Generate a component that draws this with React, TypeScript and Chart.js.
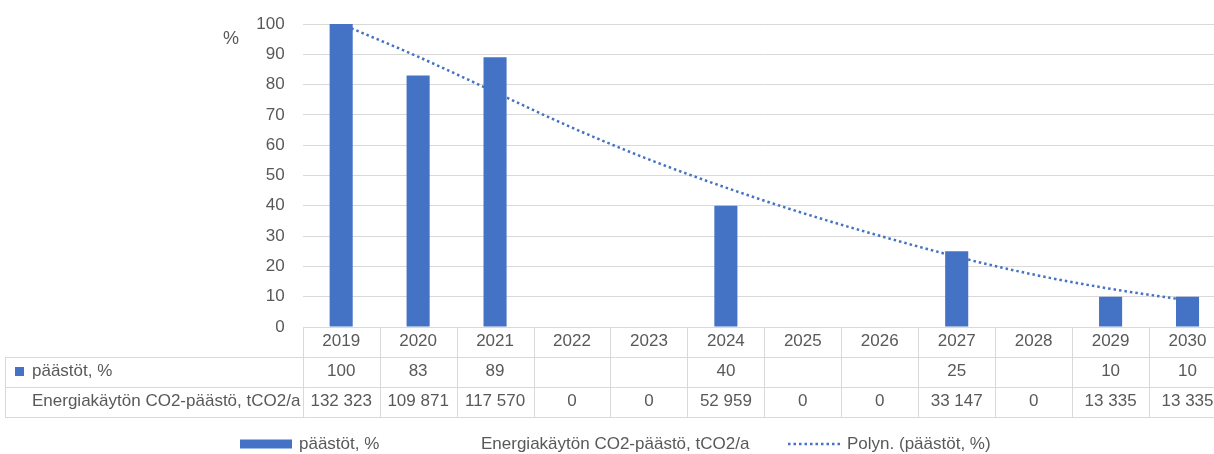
import React, { useEffect, useRef } from 'react';
import { Chart, registerables } from 'chart.js';

Chart.register(...registerables);

// ---- data ----
const years = ['2019', '2020', '2021', '2022', '2023', '2024', '2025', '2026', '2027', '2028', '2029', '2030'];
const paastotPct: (number | null)[] = [100, 83, 89, null, null, 40, null, null, 25, null, 10, 10];
const co2Tonnes: number[] = [132323, 109871, 117570, 0, 0, 52959, 0, 0, 33147, 0, 13335, 13335];
// polynomial trendline values, one per year
const trendPct: number[] = [100, 89.2, 77.5, 65.8, 55.3, 46.0, 37.6, 30.1, 23.2, 17.3, 12.6, 8.8];
const seriesLabel = 'päästöt, %';
const co2Label = 'Energiakäytön CO2-päästö, tCO2/a';
const trendLabel = 'Polyn. (päästöt, %)';
const yAxisTitle = '%';
const yMin = 0;
const yMax = 100;
const yStep = 10;

const BLUE = '#4472C4';
const GRID = '#d9d9d9';
const TEXT = '#595959';
const FONT = '"Liberation Sans", Arial, sans-serif';

const fmt = (v: number) => String(v).replace(/\B(?=(\d{3})+(?!\d))/g, ' ');

const tablePlugin = {
  id: 'dataTableAndLegend',
  afterDraw(chart: any) {
    const { ctx, chartArea } = chart;
    const xs = chart.scales.x;
    const n = years.length;
    const colW = (chartArea.right - chartArea.left) / n;
    const top = chartArea.bottom;
    const rowH = 30;
    const leftEdge = 5;
    ctx.save();
    // grid lines of the table
    ctx.strokeStyle = GRID;
    ctx.lineWidth = 1;
    ctx.beginPath();
    for (let r = 1; r <= 3; r++) {
      const y = Math.round(top + r * rowH) + 0.5;
      ctx.moveTo(leftEdge, y);
      ctx.lineTo(chartArea.right, y);
    }
    for (let i = 0; i <= n; i++) {
      const x = Math.round(chartArea.left + i * colW) + 0.5;
      ctx.moveTo(x, top);
      ctx.lineTo(x, top + 3 * rowH);
    }
    ctx.moveTo(leftEdge + 0.5, top + rowH);
    ctx.lineTo(leftEdge + 0.5, top + 3 * rowH);
    ctx.stroke();

    // texts
    ctx.font = `17px ${FONT}`;
    ctx.fillStyle = TEXT;
    ctx.textBaseline = 'middle';
    ctx.textAlign = 'center';
    for (let i = 0; i < n; i++) {
      const cx = xs.getPixelForValue(i);
      ctx.fillText(years[i], cx, top + rowH * 0.5 - 0.5);
      const p = paastotPct[i];
      if (p !== null) ctx.fillText(String(p), cx, top + rowH * 1.5 - 0.5);
      ctx.fillText(fmt(co2Tonnes[i]), cx, top + rowH * 2.5 - 0.5);
    }
    ctx.textAlign = 'left';
    ctx.fillStyle = BLUE;
    ctx.fillRect(15, top + rowH * 1.5 - 5, 9, 9);
    ctx.fillStyle = TEXT;
    ctx.fillText(seriesLabel, 32, top + rowH * 1.5 - 0.5);
    ctx.fillText(co2Label, 32, top + rowH * 2.5 - 0.5);

    // legend
    const ly = 444;
    ctx.fillStyle = BLUE;
    ctx.fillRect(240, ly - 4.5, 52, 9);
    ctx.fillStyle = TEXT;
    ctx.fillText(seriesLabel, 299, ly);
    ctx.fillText(co2Label, 481, ly);
    ctx.strokeStyle = BLUE;
    ctx.lineWidth = 2.5;
    ctx.setLineDash([2.5, 3]);
    ctx.beginPath();
    ctx.moveTo(788, ly);
    ctx.lineTo(840, ly);
    ctx.stroke();
    ctx.setLineDash([]);
    ctx.fillText(trendLabel, 847, ly);

    // "%" axis title
    ctx.font = `18px ${FONT}`;
    ctx.fillText(yAxisTitle, 223, 39);
    ctx.restore();
  },
};

export default function App() {
  const ref = useRef<HTMLCanvasElement>(null);
  useEffect(() => {
    Chart.defaults.font.family = FONT;
    Chart.defaults.font.size = 17;
    Chart.defaults.color = TEXT;
    const chart = new Chart(ref.current as HTMLCanvasElement, {
      type: 'bar',
      data: {
        labels: years,
        datasets: [
          {
            type: 'bar',
            label: seriesLabel,
            data: paastotPct,
            backgroundColor: BLUE,
            borderWidth: 0,
            barPercentage: 1,
            categoryPercentage: 0.3,
            order: 0,
          },
          {
            type: 'line',
            label: trendLabel,
            data: trendPct,
            borderColor: BLUE,
            borderWidth: 2.5,
            borderDash: [2.5, 3],
            pointRadius: 0,
            cubicInterpolationMode: 'monotone',
            fill: false,
            order: 1,
          },
        ],
      } as any,
      options: {
        responsive: false,
        animation: false,
        layout: { padding: { left: 0, right: 2, top: 24, bottom: 127 } },
        plugins: { legend: { display: false }, tooltip: { enabled: false } },
        scales: {
          x: { display: false, offset: true, grid: { display: false } },
          y: {
            min: yMin,
            max: yMax,
            ticks: { stepSize: yStep, padding: 3, color: TEXT, font: { size: 17, family: FONT } },
            grid: { color: GRID, lineWidth: 1, drawTicks: true, tickLength: 15, tickColor: 'rgba(0,0,0,0)' },
            border: { display: false },
            afterFit: (s: any) => {
              s.width = 302.7;
            },
          },
        },
      } as any,
      plugins: [tablePlugin],
    });
    return () => chart.destroy();
  }, []);
  return (
    <div style={{ position: 'absolute', left: 0, top: 0, width: 1214, height: 454, overflow: 'hidden', background: '#fff' }}>
      <canvas ref={ref} width={1228} height={454} style={{ display: 'block', width: 1228, height: 454 }} />
    </div>
  );
}
